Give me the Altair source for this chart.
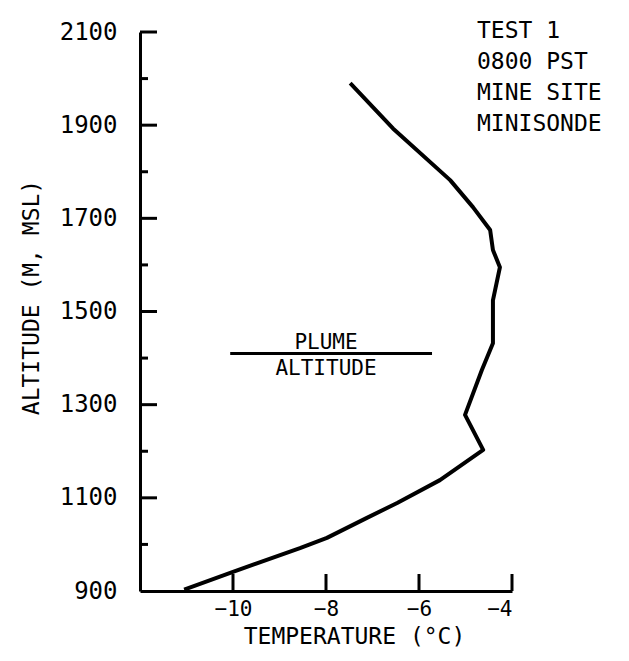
import altair as alt
import pandas as pd

# Sounding profile
temperature = [-11.05, -10.0, -8.56, -7.98, -7.12, -6.47, -5.55, -4.62, -5.01, -4.65,
               -4.41, -4.41, -4.41, -4.26, -4.41, -4.47, -4.84, -5.33, -6.56, -7.48]
altitude = [903, 941, 992, 1014, 1057, 1089, 1138, 1203, 1278, 1374,
            1432, 1460, 1524, 1595, 1632, 1675, 1724, 1782, 1893, 1990]

x_ticks = [-10, -8, -6, -4]
y_major = [1100, 1300, 1500, 1700, 1900, 2100]
y_minor = [1000, 1200, 1400, 1600, 1800, 2000]
y_labels = [900, 1100, 1300, 1500, 1700, 1900, 2100]

plume_alt = [1410]
plume_x = [-10.06]
plume_x2 = [-5.72]
plume_text_x = [-8.0]

info_lines = ["TEST 1", "0800 PST", "MINE SITE", "MINISONDE"]

FONT = "DejaVu Sans Mono"
W, H = 372, 559

profile = pd.DataFrame({"t": temperature, "alt": altitude, "order": list(range(len(altitude)))})

xs = alt.Scale(domain=[-12, -4], nice=False, zero=False)
ys = alt.Scale(domain=[900, 2100], nice=False, zero=False)

x_axis = alt.Axis(values=x_ticks, ticks=False, tickSize=0, grid=False, domainColor="black",
                  domainWidth=3, labelFont=FONT, labelFontSize=21, labelColor="black",
                  labelPadding=7, title="TEMPERATURE (°C)", titleFont=FONT, titleFontSize=23,
                  titleFontWeight="normal", titleColor="black", titleX=214, titleY=52,
                  titleAlign="center", titleBaseline="alphabetic", format="d")
y_axis = alt.Axis(values=y_labels, ticks=False, tickSize=0, grid=False, domainColor="black",
                  domainWidth=3, labelFont=FONT, labelFontSize=24, labelColor="black",
                  labelPadding=23, title="ALTITUDE (M, MSL)", titleFont=FONT, titleFontSize=23,
                  titleFontWeight="normal", titleColor="black", titleX=-109, titleY=265,
                  titleAngle=270, titleAlign="center", titleBaseline="middle", format="d")

line = alt.Chart(profile).mark_line(color="black", strokeWidth=4, strokeJoin="round").encode(
    x=alt.X("t:Q", scale=xs, axis=x_axis),
    y=alt.Y("alt:Q", scale=ys, axis=y_axis),
    order="order:O",
)

xt = alt.Chart(pd.DataFrame({"v": x_ticks})).mark_rule(color="black", strokeWidth=3).encode(
    x=alt.X("v:Q", scale=xs), y=alt.value(H), y2=alt.value(H - 17))
ymaj = alt.Chart(pd.DataFrame({"v": y_major})).mark_rule(color="black", strokeWidth=3).encode(
    y=alt.Y("v:Q", scale=ys), x=alt.value(0), x2=alt.value(17))
ymin = alt.Chart(pd.DataFrame({"v": y_minor})).mark_rule(color="black", strokeWidth=3).encode(
    y=alt.Y("v:Q", scale=ys), x=alt.value(0), x2=alt.value(8))

plume_df = pd.DataFrame({"x": plume_x, "x2": plume_x2, "y": plume_alt, "tx": plume_text_x})
plume_rule = alt.Chart(plume_df).mark_rule(color="black", strokeWidth=3).encode(
    x=alt.X("x:Q", scale=xs), x2="x2:Q", y=alt.Y("y:Q", scale=ys))
plume_top = alt.Chart(plume_df).mark_text(text="PLUME", font=FONT, fontSize=21, color="black",
                                          baseline="alphabetic", dy=-4).encode(
    x=alt.X("tx:Q", scale=xs), y=alt.Y("y:Q", scale=ys))
plume_bot = alt.Chart(plume_df).mark_text(text="ALTITUDE", font=FONT, fontSize=21, color="black",
                                          baseline="top", dy=5).encode(
    x=alt.X("tx:Q", scale=xs), y=alt.Y("y:Q", scale=ys))

info = alt.Chart(pd.DataFrame({"txt": ["\n".join(info_lines)]})).mark_text(
    font=FONT, fontSize=23, color="black", align="left", baseline="top",
    lineBreak="\n", lineHeight=31).encode(
    text="txt:N", x=alt.value(337), y=alt.value(-12))

chart = alt.layer(line, xt, ymaj, ymin, plume_rule, plume_top, plume_bot, info).properties(
    width=W, height=H,
    autosize=alt.AutoSizeParams(type="none"),
    padding={"left": 140, "top": 32, "right": 117, "bottom": 70},
    background="white",
).configure_view(stroke=None)

chart.save("out.html", embed_options={"renderer": "svg", "actions": False})
